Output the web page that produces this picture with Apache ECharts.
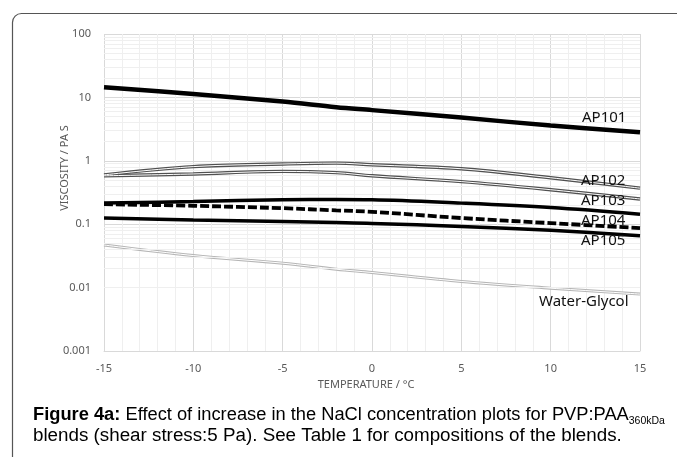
<!DOCTYPE html>
<html>
<head>
<meta charset="utf-8">
<script src="https://cdn.jsdelivr.net/npm/echarts@6/dist/echarts.min.js"></script>
<style>
html,body{margin:0;padding:0;background:#fff;}
#main{width:677px;height:457px;}
</style>
</head>
<body>
<div id="main"></div>
<script>
// Temperature (°C) sample points
const temps = [-15, -10, -5, -2, 0, 5, 10, 15];
// Viscosity (Pa s) series
const ap101 = [14.5, 11.3, 8.6, 7.0, 6.3, 4.8, 3.6, 2.83];
const ap102 = [0.60, 0.81, 0.89, 0.92, 0.865, 0.75, 0.54, 0.37];
const ap103 = [0.58, 0.62, 0.68, 0.65, 0.58, 0.47, 0.35, 0.25];
const ap104a = [0.215, 0.228, 0.243, 0.245, 0.243, 0.215, 0.183, 0.144];
const ap104b = [0.207, 0.195, 0.179, 0.165, 0.157, 0.125, 0.104, 0.087];
const ap105 = [0.125, 0.117, 0.110, 0.106, 0.103, 0.092, 0.080, 0.066];
const waterGlycol = [0.047, 0.032, 0.0243, 0.0195, 0.0173, 0.0125, 0.0098, 0.0079];
// Tick labels
const yTickLabels = ['0.001', '0.01', '0.1', '1', '10', '100'];
const xTicks = [-15, -10, -5, 0, 5, 10, 15];
// Series end labels
const seriesLabels = ['AP101', 'AP102', 'AP103', 'AP104', 'AP105', 'Water-Glycol'];

function pairs(ys) { return temps.map((t, i) => [t, ys[i]]); }

// log minor gridline values (2..9 x decade)
const minorVals = [];
for (let e = -3; e < 2; e++) {
  for (let m = 2; m <= 9; m++) minorVals.push(m * Math.pow(10, e));
}

const chart = echarts.init(document.getElementById('main'), null, {renderer: 'canvas'});

function lineSeries(name, ys, color, width, type, z) {
  return {
    name: name, type: 'line', data: pairs(ys), smooth: 0.35, showSymbol: false,
    symbol: 'none', z: z || 3, silent: true,
    lineStyle: {color: color, width: width, type: type || 'solid'}
  };
}

const labelFont = '"Noto Sans", sans-serif';
const capFont = '"Liberation Sans", Arial, sans-serif';
const labelPos = [[582, 118], [581, 181], [581, 201], [581, 221], [581, 241], [539, 302]];

chart.setOption({
  animation: false,
  grid: {left: 104, right: 37, top: 34, bottom: 106},
  xAxis: {
    type: 'value', min: -15, max: 15, interval: 5,
    axisLine: {show: true, lineStyle: {color: '#d9d9d9'}},
    axisTick: {show: false},
    axisLabel: {color: '#595959', fontSize: 11, fontFamily: labelFont, margin: 12,
      formatter: v => xTicks.indexOf(v) >= 0 ? String(v) : ''},
    splitLine: {show: true, lineStyle: {color: '#d9d9d9', width: 1}},
    minorTick: {show: false, splitNumber: 5},
    minorSplitLine: {show: true, lineStyle: {color: '#efefef', width: 1}}
  },
  yAxis: {
    type: 'log', logBase: 10, min: 0.001, max: 100,
    axisLine: {show: false}, axisTick: {show: false},
    axisLabel: {color: '#595959', fontSize: 11, fontFamily: labelFont, margin: 13,
      formatter: v => yTickLabels[Math.round(Math.log10(v)) + 3]},
    splitLine: {show: true, lineStyle: {color: '#d9d9d9', width: 1}}
  },
  series: [
    {
      type: 'line', data: [], z: 1, silent: true, showSymbol: false,
      markLine: {
        silent: true, symbol: 'none', animation: false,
        label: {show: false},
        lineStyle: {color: '#efefef', width: 1, type: 'solid'},
        data: minorVals.map(v => ({yAxis: v}))
      }
    },
    lineSeries('Water-Glycol', waterGlycol, '#b5b5b5', 3, 'solid', 3),
    lineSeries('Water-Glycol core', waterGlycol, '#ffffff', 1, 'solid', 4),
    lineSeries('AP105', ap105, '#000000', 3.5, 'solid', 5),
    lineSeries('AP104b', ap104b, '#000000', 3.8, [9, 3], 5),
    lineSeries('AP104a', ap104a, '#000000', 3.5, 'solid', 5),
    lineSeries('AP103', ap103, '#505050', 3.4, 'solid', 6),
    lineSeries('AP103 core', ap103, '#ffffff', 1, 'solid', 7),
    lineSeries('AP102', ap102, '#505050', 3.4, 'solid', 6),
    lineSeries('AP102 core', ap102, '#ffffff', 1, 'solid', 7),
    lineSeries('AP101', ap101, '#000000', 4.5, 'solid', 8)
  ],
  graphic: [
    {type: 'rect', z: 100, silent: true,
      shape: {x: 12.5, y: 13.5, width: 720, height: 520, r: 9},
      style: {fill: 'none', stroke: '#555555', lineWidth: 1.2}},
    ...seriesLabels.map((s, i) => ({
      type: 'text', z: 100, silent: true, x: labelPos[i][0], y: labelPos[i][1],
      style: {text: s, fill: '#111', font: '15px ' + labelFont, verticalAlign: 'middle', align: 'left'}
    })),
    {type: 'text', z: 100, silent: true, x: 65, y: 168, rotation: Math.PI / 2,
      style: {text: 'VISCOSITY / PA S', fill: '#595959', font: '11px ' + labelFont, align: 'center', verticalAlign: 'middle'}},
    {type: 'text', z: 100, silent: true, x: 366, y: 385,
      style: {text: 'TEMPERATURE / °C', fill: '#595959', font: '11px ' + labelFont, align: 'center', verticalAlign: 'middle'}},
    {type: 'text', z: 100, silent: true, x: 33, y: 415,
      style: {
        text: '{b|Figure 4a:} Effect of increase in the NaCl concentration plots for PVP:PAA{s|360kDa}',
        fill: '#000', font: '18.3px ' + capFont, verticalAlign: 'middle', align: 'left',
        rich: {
          b: {fontWeight: 'bold', fontSize: 18.3, fontFamily: capFont, fill: '#000'},
          s: {fontSize: 10.5, fontFamily: capFont, fill: '#000', padding: [13, 0, 0, 0]}
        }
      }},
    {type: 'text', z: 100, silent: true, x: 33, y: 436,
      style: {text: 'blends (shear stress:5 Pa). See Table 1 for compositions of the blends.',
        fill: '#000', font: '18.8px ' + capFont, verticalAlign: 'middle', align: 'left'}}
  ]
});
</script>
</body>
</html>
